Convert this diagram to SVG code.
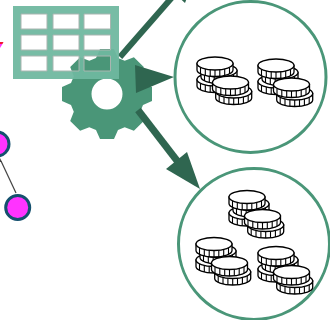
<svg xmlns="http://www.w3.org/2000/svg" width="330" height="320" viewBox="0 0 330 320">
<style>
.big{fill:#fff;stroke:#4a9678;stroke-width:3}
.pink{fill:#ff33ff;stroke:#14506e;stroke-width:3}
.shaft{stroke:#2f6650;fill:none}
.head{fill:#2f6650}
.cell{fill:none;stroke:#a9b5b0;stroke-width:1}
.cb{fill:#fff;stroke:#000;stroke-width:1.3}
.ct{stroke:#000;stroke-width:1.1;fill:none}
</style>
<defs>
<g id="coin">
<path class="cb" d="M-18,0v6.500a18,6.500 0 0 0 36,0v-6.500z"/>
<ellipse class="cb" cx="0" cy="0" rx="18" ry="6.500"/>
<path class="ct" d="M-14.500,3.900v6.500M-9.700,5.500v6.500M-4.800,6.300v6.500M0,6.500v6.500M4.800,6.300v6.500M9.700,5.500v6.500M14.500,3.900v6.500"/>
</g>
<g id="stack">
<use href="#coin" x="0" y="16"/>
<use href="#coin" x="4" y="7"/>
<use href="#coin" x="0" y="0"/>
<use href="#coin" x="18.7" y="28"/>
<use href="#coin" x="15.5" y="19"/>
</g>
</defs>
<g id="gear">
<path fill="#4a9678" fill-rule="evenodd" transform="translate(107,94)" d="M36,-11L45,-7L45,7L36,11L33.2,17.7L36.8,26.9L26.9,36.8L17.7,33.2L11,36L7,45L-7,45L-11,36L-17.7,33.2L-26.9,36.8L-36.8,26.9L-33.2,17.7L-36,11L-45,7L-45,-7L-36,-11L-33.2,-17.7L-36.8,-26.9L-26.9,-36.8L-17.7,-33.2L-11,-36L-7,-45L7,-45L11,-36L17.7,-33.2L26.9,-36.8L36.8,-26.9L33.2,-17.7ZM15.500,0A15.500,15.500 0 1 0 -15.500,0A15.500,15.500 0 1 0 15.500,0Z"/>
</g>
<g id="connectors">
<path class="shaft" stroke-width="6" d="M120,57L175,-6"/>
<polygon class="head" points="185,3 164,-16 199,-34"/>
<polygon class="head" points="135,65 174,77 136,93"/>
<path class="shaft" stroke-width="7" d="M138,110L178,162"/>
<polygon class="head" points="200,189 166,169 187,152"/>
<path d="M16,193L1,161" stroke="#444" stroke-width="1.2" fill="none"/>
<polygon points="0,158 2,162 0,162" fill="#444"/>
</g>
<g id="table">
<path fill="#6fb89f" fill-opacity="0.94" fill-rule="evenodd" d="M13,6H119V79H13ZM21,14V29H47V14ZM53,14V29H79V14ZM84,14V29H110.500V14ZM21,35V50H47V35ZM53,35V50H79V35ZM84,35V50H110.500V35ZM21,56V71H47V56ZM53,56V71H79V56ZM84,56V71H110.500V56Z"/>
<path class="cell" d="M21,14V29H47V14ZM53,14V29H79V14ZM84,14V29H110.500V14ZM21,35V50H47V35ZM53,35V50H79V35ZM84,35V50H110.500V35ZM21,56V71H47V56ZM53,56V71H79V56ZM84,56V71H110.500V56Z"/>
</g>
<g id="circle-top">
<circle class="big" cx="250.500" cy="77" r="75.500"/>
<use href="#stack" x="215" y="63.500"/>
<use href="#stack" x="276" y="65.500"/>
</g>
<g id="circle-bottom">
<circle class="big" cx="254" cy="244" r="75.500"/>
<use href="#stack" x="247" y="197"/>
<use href="#stack" x="214" y="244"/>
<use href="#stack" x="276" y="253"/>
</g>
<g id="node-a"><circle class="pink" cx="-3" cy="144" r="12"/></g>
<g id="node-b"><circle class="pink" cx="17.700" cy="207.500" r="12"/></g>
<polygon points="0,42 3.500,42 2.500,44 0,44" fill="#f01830"/>
<polygon points="0,44 2.500,44 0,48" fill="#ff33ff"/>
</svg>
